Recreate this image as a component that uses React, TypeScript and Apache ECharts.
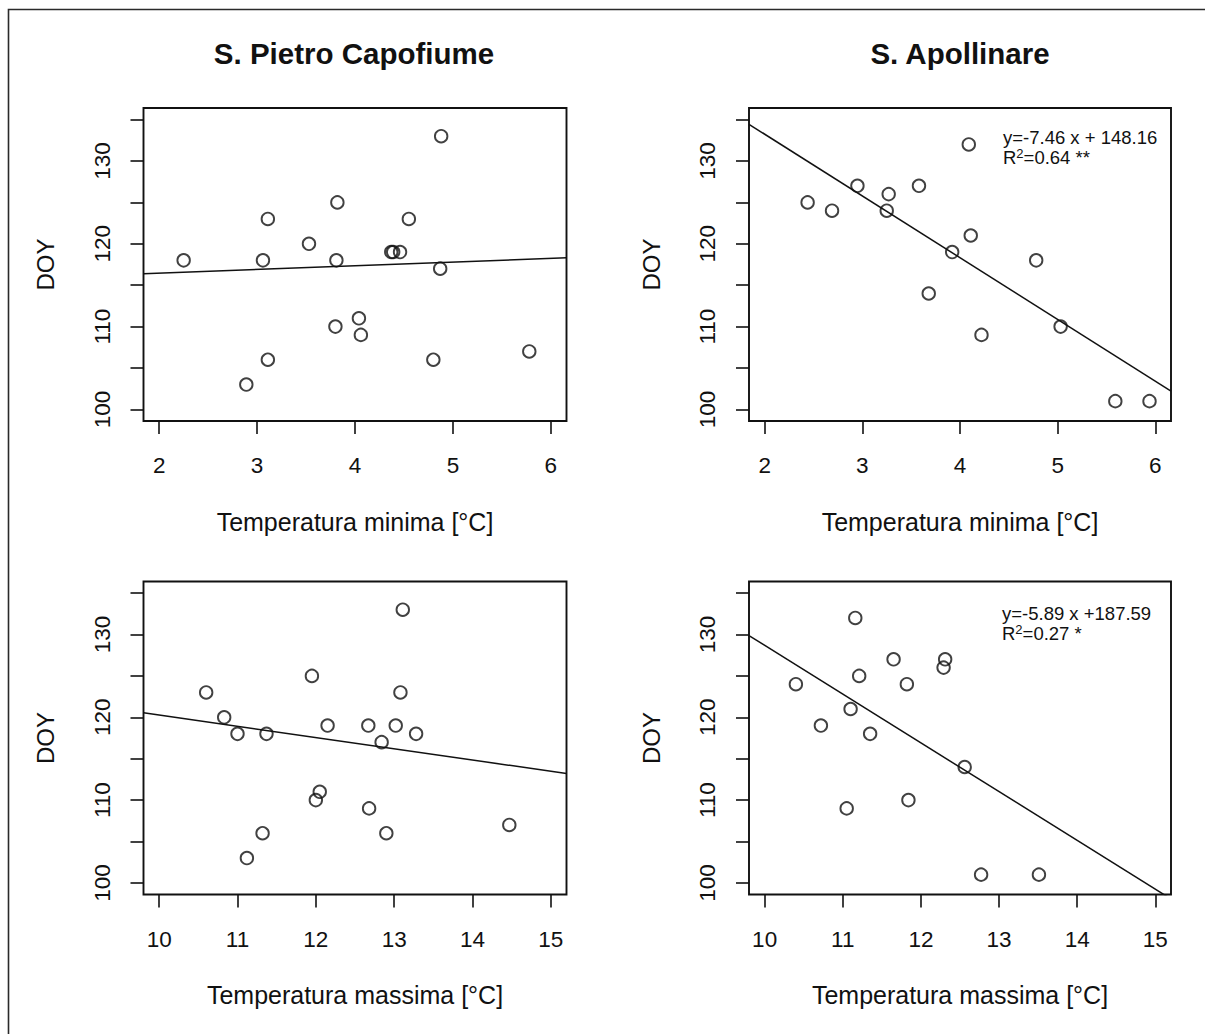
import React, { useEffect, useRef } from "react";
import * as echarts from "echarts";

// ---- texts ----
const panelTitles = ["S. Pietro Capofiume", "S. Apollinare"];
const xNameMin = "Temperatura minima [°C]";
const xNameMax = "Temperatura massima [°C]";
const yName = "DOY";
const eqSA_min = ["y=-7.46 x + 148.16", "0.64 **"];
const eqSA_max = ["y=-5.89 x +187.59", "0.27 *"];

// ---- axis ticks / ranges ----
const tminTicks = [2, 3, 4, 5, 6];
const tmaxTicks = [10, 11, 12, 13, 14, 15];
const doyTicks = [100, 105, 110, 115, 120, 125, 130, 135];
const doyLabels = [100, 110, 120, 130];
const tminRange = [1.84, 6.16];
const tmaxRange = [9.8, 15.2];
const doyRange = [98.6, 136.4];

// ---- data ----
// S. Pietro Capofiume, minimum temperature
const spMinX = [2.25, 3.06, 3.11, 3.53, 3.82, 3.81, 4.37, 4.39, 4.46, 4.55, 4.88, 4.87, 4.04, 3.8, 4.06, 3.11, 2.89, 4.8, 5.78];
const spMinY = [118, 118, 123, 120, 125, 118, 119, 119, 119, 123, 133, 117, 111, 110, 109, 106, 103, 106, 107];
// S. Apollinare, minimum temperature
const saMinX = [2.44, 2.69, 2.95, 3.27, 3.25, 3.58, 4.09, 4.11, 3.92, 3.68, 4.22, 4.78, 5.03, 5.59, 5.94];
const saMinY = [125, 124, 127, 126, 124, 127, 132, 121, 119, 114, 109, 118, 110, 101, 101];
// S. Pietro Capofiume, maximum temperature
const spMaxX = [10.6, 10.83, 11.0, 11.37, 11.12, 11.32, 11.95, 12.15, 12.05, 12.0, 12.67, 12.68, 12.84, 13.02, 12.9, 13.08, 13.11, 13.28, 14.47];
const spMaxY = [123, 120, 118, 118, 103, 106, 125, 119, 111, 110, 119, 109, 117, 119, 106, 123, 133, 118, 107];
// S. Apollinare, maximum temperature
const saMaxX = [10.4, 10.72, 11.1, 11.16, 11.21, 11.35, 11.05, 11.65, 11.82, 11.84, 12.31, 12.29, 12.56, 12.77, 13.51];
const saMaxY = [124, 119, 121, 132, 125, 118, 109, 127, 124, 110, 127, 126, 114, 101, 101];

// regression lines [slope, intercept]
const spMinFit = [0.445, 115.57];
const saMinFit = [-7.46, 148.16];
const spMaxFit = [-1.357, 133.84];
const saMaxFit = [-5.89, 187.59];

const FONT = "'Liberation Sans', Arial, Helvetica, sans-serif";
const INK = "#111111";

const grids = [
  { left: 143.5, top: 108, width: 423, height: 313 },
  { left: 749, top: 108, width: 422, height: 313 },
  { left: 143.5, top: 581.5, width: 423, height: 313 },
  { left: 749, top: 581.5, width: 422, height: 313 },
];

function zip(xs: number[], ys: number[]) {
  return xs.map((x, i) => [x, ys[i]]);
}

function xAxis(gi: number, range: number[], ticks: number[], name: string) {
  return {
    type: "value",
    gridIndex: gi,
    min: range[0],
    max: range[1],
    name,
    nameLocation: "middle",
    nameGap: 88,
    nameTextStyle: { fontSize: 25, color: INK, fontFamily: FONT },
    axisLine: { show: false },
    splitLine: { show: false },
    axisTick: { show: true, length: 13, lineStyle: { color: INK, width: 1.6 }, customValues: ticks },
    axisLabel: { customValues: ticks, fontSize: 22.5, color: INK, fontFamily: FONT, margin: 33 },
  };
}

function yAxis(gi: number) {
  return {
    type: "value",
    gridIndex: gi,
    min: doyRange[0],
    max: doyRange[1],
    name: yName,
    nameLocation: "middle",
    nameRotate: 90,
    nameGap: 86,
    nameTextStyle: { fontSize: 24, color: INK, fontFamily: FONT },
    axisLine: { show: false },
    splitLine: { show: false },
    axisTick: { show: true, length: 13, lineStyle: { color: INK, width: 1.6 }, customValues: doyTicks },
    axisLabel: { customValues: doyLabels, rotate: 90, fontSize: 22.5, color: INK, fontFamily: FONT, margin: 30 },
  };
}

function scatter(gi: number, xs: number[], ys: number[]) {
  return {
    type: "scatter",
    xAxisIndex: gi,
    yAxisIndex: gi,
    data: zip(xs, ys),
    symbol: "circle",
    symbolSize: 12.5,
    silent: true,
    itemStyle: { color: "rgba(255,255,255,0)", borderColor: INK, borderWidth: 1.9 },
  };
}

function fitLine(gi: number, fit: number[], range: number[]) {
  return {
    type: "line",
    xAxisIndex: gi,
    yAxisIndex: gi,
    data: range.map((x) => [x, fit[1] + fit[0] * x]),
    symbol: "none",
    silent: true,
    clip: true,
    lineStyle: { color: INK, width: 1.5 },
  };
}

function eqText(x: number, y: number, lines: string[]) {
  return {
    type: "text",
    x,
    y,
    silent: true,
    style: {
      text: `{a|${lines[0]}}\n{a|R}{s|2}{a|=${lines[1]}}`,
      verticalAlign: "top",
      align: "left",
      rich: {
        a: { fontSize: 18.5, lineHeight: 20, fontFamily: FONT, fill: INK },
        s: { fontSize: 13, lineHeight: 14, verticalAlign: "top", fontFamily: FONT, fill: INK },
      },
    },
  };
}

export default function App() {
  const ref = useRef<HTMLDivElement>(null);
  useEffect(() => {
    if (!ref.current) return;
    const chart = echarts.init(ref.current, undefined, { renderer: "svg" });
    chart.setOption({
      animation: false,
      backgroundColor: "#ffffff",
      grid: grids.map((g) => ({ ...g, show: true, borderColor: INK, borderWidth: 1.9, backgroundColor: "transparent" })),
      xAxis: [
        xAxis(0, tminRange, tminTicks, xNameMin),
        xAxis(1, tminRange, tminTicks, xNameMin),
        xAxis(2, tmaxRange, tmaxTicks, xNameMax),
        xAxis(3, tmaxRange, tmaxTicks, xNameMax),
      ],
      yAxis: [yAxis(0), yAxis(1), yAxis(2), yAxis(3)],
      series: [
        fitLine(0, spMinFit, tminRange),
        scatter(0, spMinX, spMinY),
        fitLine(1, saMinFit, tminRange),
        scatter(1, saMinX, saMinY),
        fitLine(2, spMaxFit, tmaxRange),
        scatter(2, spMaxX, spMaxY),
        fitLine(3, saMaxFit, tmaxRange),
        scatter(3, saMaxX, saMaxY),
      ],
      graphic: [
        {
          type: "rect",
          silent: true,
          shape: { x: 8.5, y: 9.5, width: 1300, height: 1200 },
          style: { fill: "none", stroke: "#2a2a2a", lineWidth: 1.6 },
        },
        {
          type: "text",
          x: 354,
          y: 53,
          silent: true,
          style: { text: panelTitles[0], fontSize: 29.5, fontWeight: "bold", fontFamily: FONT, fill: INK, align: "center", verticalAlign: "middle" },
        },
        {
          type: "text",
          x: 960,
          y: 53,
          silent: true,
          style: { text: panelTitles[1], fontSize: 29.5, fontWeight: "bold", fontFamily: FONT, fill: INK, align: "center", verticalAlign: "middle" },
        },
        eqText(1003, 127, eqSA_min),
        eqText(1002, 603, eqSA_max),
      ],
    });
    return () => chart.dispose();
  }, []);
  return <div ref={ref} style={{ position: "absolute", left: 0, top: 0, width: 1205, height: 1034 }} />;
}
